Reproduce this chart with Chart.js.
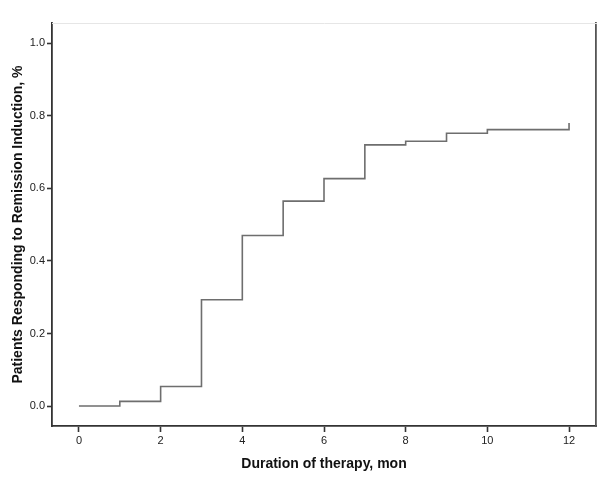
<!DOCTYPE html>
<html>
<head>
<meta charset="utf-8">
<script src="https://cdn.jsdelivr.net/npm/chart.js@4"></script>
<style>
  html, body { margin: 0; padding: 0; background: #fff; }
  #wrap { width: 611px; height: 490px; }
</style>
</head>
<body>
<div id="wrap"><canvas id="kmChart" width="611" height="490"></canvas></div>
<script>
// months on therapy and cumulative share of responders (step curve)
const months = [0, 1, 2, 3, 4, 5, 6, 7, 8, 9, 10, 11, 12];
const responders = [0, 0.013, 0.054, 0.293, 0.470, 0.565, 0.627, 0.720, 0.730, 0.752, 0.762, 0.762, 0.780];
const xTicks = [0, 2, 4, 6, 8, 10, 12];
const yTicks = [0, 0.2, 0.4, 0.6, 0.8, 1.0];

document.addEventListener('DOMContentLoaded', function() {
    const font = "'Liberation Sans', Arial, sans-serif";
    const axisColor = '#333';

    new Chart(document.getElementById('kmChart'), {
        type: 'line',
        data: {
            datasets: [{
                data: months.map((m, i) => ({ x: m, y: responders[i] })),
                stepped: 'before',
                borderColor: '#6e6e6e',
                borderWidth: 1.6,
                pointRadius: 0,
                fill: false
            }]
        },
        options: {
            responsive: false,
            animation: false,
            layout: { padding: { top: 23, right: 15, bottom: 0, left: 0 } },
            plugins: { legend: { display: false }, tooltip: { enabled: false } },
            scales: {
                x: {
                    type: 'linear',
                    min: -0.66,
                    max: 12.66,
                    afterBuildTicks: s => { s.ticks = xTicks.map(v => ({ value: v })); },
                    afterFit: s => { s.height = 64; },
                    grid: { drawOnChartArea: false, tickLength: 6, tickColor: axisColor, tickWidth: 1.6 },
                    border: { color: axisColor, width: 1.8 },
                    ticks: { color: '#222', font: { family: font, size: 11 }, padding: 2, maxRotation: 0 },
                    title: {
                        display: true,
                        text: 'Duration of therapy, mon',
                        color: '#111',
                        font: { family: font, size: 14, weight: 'bold' },
                        padding: { top: 4, bottom: 17 }
                    }
                },
                y: {
                    min: -0.055,
                    max: 1.056,
                    afterBuildTicks: s => { s.ticks = yTicks.map(v => ({ value: v })); },
                    afterFit: s => { s.width = 52; },
                    grid: { drawOnChartArea: false, tickLength: 5, tickColor: axisColor, tickWidth: 1.6 },
                    border: { color: axisColor, width: 1.8 },
                    ticks: { color: '#222', font: { family: font, size: 11 }, padding: 2, callback: v => v.toFixed(1) },
                    title: {
                        display: true,
                        text: 'Patients Responding to Remission Induction, %',
                        color: '#111',
                        font: { family: font, size: 14, weight: 'bold' },
                        padding: { top: 10, bottom: 0 }
                    }
                },
                yRight: {
                    position: 'right',
                    min: 0, max: 1,
                    afterFit: s => { s.width = 0; },
                    grid: { display: false },
                    ticks: { display: false },
                    border: { color: '#555', width: 1.8 }
                },
                xTop: {
                    type: 'linear',
                    position: 'top',
                    min: 0, max: 1,
                    afterFit: s => { s.height = 0; },
                    grid: { display: false },
                    ticks: { display: false },
                    border: { color: '#e6e6e6', width: 1 }
                }
            }
        }
    });
});
</script>
</body>
</html>
